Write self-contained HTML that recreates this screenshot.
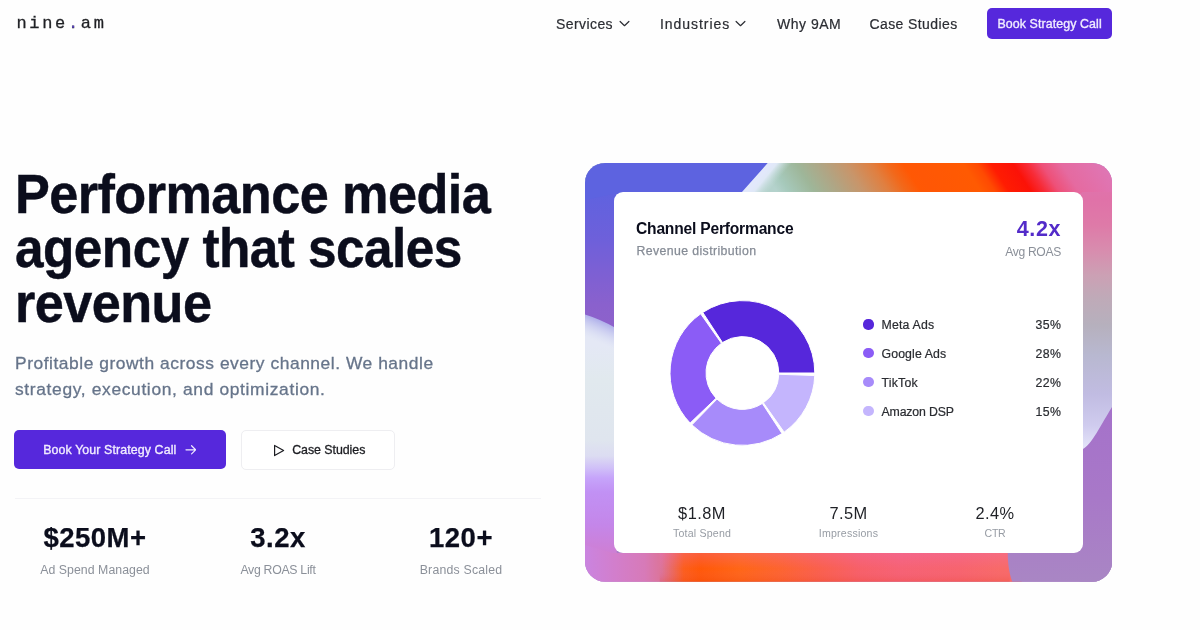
<!DOCTYPE html>
<html lang="en">
<head>
<meta charset="utf-8">
<title>nine.am — Performance media agency that scales revenue</title>
<style>
*{box-sizing:border-box;margin:0;padding:0}
html,body{width:1200px;height:630px;overflow:hidden;background:#fefefe}
body{filter:blur(.4px)}
body{position:relative;font-family:"Liberation Sans",sans-serif;color:#0b0d1a;-webkit-font-smoothing:antialiased}
.abs{position:absolute;white-space:nowrap;line-height:1}
a{color:inherit;text-decoration:none}

/* header */
#logo{left:16.5px;top:15px;font-family:"Liberation Mono","DejaVu Sans Mono",monospace;font-size:17px;letter-spacing:2.65px;color:#1f2024;line-height:18px;-webkit-text-stroke:.3px #1f2024}
#logo b{font-weight:400;color:#5b3fd6}
.nav{top:16px;font-size:14px;color:#2b2d33;letter-spacing:.5px;line-height:16px;-webkit-text-stroke:.2px #2b2d33}
.chev{position:absolute;top:20.4px;width:11px;height:7.4px}
#navbtn{left:987px;top:7.6px;width:125.2px;height:31.6px;border-radius:5px;background:#5628dc;color:#f1ecff;font-size:12.4px;font-weight:400;text-align:center;line-height:33.4px;letter-spacing:.1px;-webkit-text-stroke:.35px #f1ecff}

/* hero left */
#h1{left:14.6px;top:167.2px;font-size:55px;font-weight:700;-webkit-text-stroke:.45px #0b0d1c;line-height:54.2px;letter-spacing:-.6px;color:#0b0d1c;white-space:nowrap}
#sub{left:15px;top:350.2px;font-size:17.4px;line-height:26px;color:#66748a;letter-spacing:.25px;-webkit-text-stroke:.3px #66748a}
#cta1{left:14.4px;top:430px;width:211.7px;height:39.4px;border-radius:5px;background:#5628dc;color:#f1ecff;font-size:12.4px;line-height:41.8px;padding-left:28.8px;letter-spacing:.1px;-webkit-text-stroke:.35px #f1ecff}
#cta2{left:241.2px;top:430px;width:153.6px;height:39.6px;border-radius:5px;background:#fff;border:1px solid #eeeef1;color:#1c1d22;font-size:12.4px;line-height:39.8px;padding-left:50px;letter-spacing:.1px;-webkit-text-stroke:.3px #1c1d22}
#rule{left:15px;top:498px;width:526px;height:1px;background:#f3f3f6}
.stat{width:160px;text-align:center}
.stat .n{display:block;font-size:27.5px;font-weight:700;line-height:28px;color:#0b0d1c;letter-spacing:.5px;-webkit-text-stroke:.25px #0b0d1c}
.stat .l{display:block;font-size:12.3px;line-height:14px;color:#8b9099;margin-top:11px;letter-spacing:.2px}

/* hero right */

#card{left:613.5px;top:191.8px;width:469.7px;height:360.8px;border-radius:9px;background:#fff}

#ct{left:636px;top:220.2px;font-size:15.6px;font-weight:700;line-height:18px;color:#0b0d1c;letter-spacing:-.2px}
#cs{left:636.5px;top:243.5px;font-size:12.3px;line-height:14px;color:#868c96;letter-spacing:.39px;-webkit-text-stroke:.25px #868c96}
#roas{right:139px;top:217px;font-size:21.5px;font-weight:700;line-height:24px;color:#532bc9;letter-spacing:.6px;text-align:right}
#roasl{right:139px;top:244.8px;font-size:12.1px;line-height:14px;color:#8b9099;letter-spacing:-.3px;text-align:right}
.lg{left:881.5px;font-size:12.3px;line-height:14px;color:#2a2c31;letter-spacing:.2px;-webkit-text-stroke:.2px #2a2c31}
.pc{right:138.6px;font-size:12.3px;line-height:14px;color:#2a2c31;letter-spacing:.45px;text-align:right;-webkit-text-stroke:.2px #2a2c31}
.dot{position:absolute;left:863.4px;width:10.2px;height:10.2px;border-radius:50%;margin-top:.15px}
.cn{width:120px;text-align:center;font-size:16.4px;line-height:20px;color:#1f2126;letter-spacing:.45px}
.cl{width:120px;text-align:center;font-size:10.6px;line-height:12px;color:#979ca4;letter-spacing:.2px}
</style>
</head>
<body>

<a class="abs" id="logo">nine<b>.</b>am</a>

<a class="abs nav" id="n1" style="left:556px;letter-spacing:.42px">Services</a>
<svg class="chev" style="left:618.8px" viewBox="0 0 12 8"><path d="M1.2 1.6 6 6.2 10.8 1.6" fill="none" stroke="#2b2d33" stroke-width="1.3" stroke-linecap="round" stroke-linejoin="round"/></svg>
<a class="abs nav" id="n2" style="left:660px;letter-spacing:.95px">Industries</a>
<svg class="chev" style="left:735.4px" viewBox="0 0 12 8"><path d="M1.2 1.6 6 6.2 10.8 1.6" fill="none" stroke="#2b2d33" stroke-width="1.3" stroke-linecap="round" stroke-linejoin="round"/></svg>
<a class="abs nav" id="n3" style="left:777px">Why 9AM</a>
<a class="abs nav" id="n4" style="left:869.5px;letter-spacing:.4px">Case Studies</a>
<a class="abs" id="navbtn"><span id="navbtn_t">Book Strategy Call</span></a>

<h1 class="abs" id="h1"><span id="h1a" style="display:inline-block;transform-origin:0 50%;transform:scaleX(.95)">Performance media</span><br><span id="h1b" style="display:inline-block;transform-origin:0 50%;transform:scaleX(.934)">agency that scales</span><br><span id="h1c" style="display:inline-block;transform-origin:0 50%;transform:scaleX(.95)">revenue</span></h1>

<p class="abs" id="sub"><span id="sub1" style="letter-spacing:.54px">Profitable growth across every channel. We handle</span><br><span id="sub2" style="letter-spacing:.65px">strategy, execution, and optimization.</span></p>

<a class="abs" id="cta1"><span id="cta1_t">Book Your Strategy Call</span>
<svg style="position:absolute;left:170.3px;top:14px;width:11.6px;height:11.6px" viewBox="0 0 12 12"><path d="M1 6h10M6.8 1.8 11 6l-4.2 4.2" fill="none" stroke="#f1ecff" stroke-width="1.2" stroke-linecap="round" stroke-linejoin="round"/></svg></a>
<a class="abs" id="cta2"><svg style="position:absolute;left:31px;top:13px;width:12px;height:13px" viewBox="0 0 12 13"><path d="M1.6 1.4 10.6 6.5 1.6 11.6Z" fill="none" stroke="#1c1d22" stroke-width="1.2" stroke-linejoin="round"/></svg><span id="cta2_t" style="letter-spacing:-.05px">Case Studies</span></a>

<div class="abs" id="rule"></div>
<div class="abs stat" id="s1" style="left:15px;top:524px"><span class="n" id="s1n">$250M+</span><span class="l" id="s1l" style="letter-spacing:.05px">Ad Spend Managed</span></div>
<div class="abs stat" id="s2" style="left:198px;top:524px"><span class="n" id="s2n">3.2x</span><span class="l" id="s2l" style="letter-spacing:-.3px">Avg ROAS Lift</span></div>
<div class="abs stat" id="s3" style="left:381px;top:524px"><span class="n" id="s3n">120+</span><span class="l" id="s3l">Brands Scaled</span></div>

<svg class="abs" id="frame" style="left:585.3px;top:163.0px;width:527.1px;height:418.7px" viewBox="585.3 163.0 527.1 418.7" preserveAspectRatio="none">
<defs>
<clipPath id="fc"><rect x="585.3" y="163.0" width="527.1" height="418.7" rx="20" ry="20"/></clipPath>
<linearGradient id="gt" gradientUnits="userSpaceOnUse" x1="585" y1="0" x2="1112" y2="0" gradientTransform="translate(-115 0) skewX(33)"><stop offset="0.0000" stop-color="#b4d2cc"/><stop offset="0.3472" stop-color="#b4d2cc"/><stop offset="0.3700" stop-color="#a6c9bb"/><stop offset="0.4175" stop-color="#9eb699"/><stop offset="0.4649" stop-color="#b0a584"/><stop offset="0.5123" stop-color="#c8956a"/><stop offset="0.5598" stop-color="#e07f40"/><stop offset="0.5920" stop-color="#f2681a"/><stop offset="0.6205" stop-color="#ff5804"/><stop offset="0.6433" stop-color="#ff5705"/><stop offset="0.7343" stop-color="#ff5a02"/><stop offset="0.7609" stop-color="#ff4a02"/><stop offset="0.7875" stop-color="#ff1c02"/><stop offset="0.8292" stop-color="#fb1208"/><stop offset="0.8558" stop-color="#f72c38"/><stop offset="0.8824" stop-color="#ee5078"/><stop offset="0.9203" stop-color="#e56aa0"/><stop offset="1.0000" stop-color="#df76b4"/></linearGradient>
<linearGradient id="gd" gradientUnits="userSpaceOnUse" x1="585" y1="0" x2="1112" y2="0" gradientTransform="translate(138 0) skewX(-39)"><stop offset=".3440" stop-color="#e2e8fb"/><stop offset=".3540" stop-color="#dfe8f6"/><stop offset=".3820" stop-color="#c4dcd8" stop-opacity="0"/></linearGradient>
<linearGradient id="gb" gradientUnits="userSpaceOnUse" x1="585" y1="0" x2="1112" y2="0"><stop offset="0.0000" stop-color="#ca84e0"/><stop offset="0.0569" stop-color="#d27ecc"/><stop offset="0.1139" stop-color="#d77ab8"/><stop offset="0.1461" stop-color="#dc7498"/><stop offset="0.1689" stop-color="#ec6858"/><stop offset="0.1879" stop-color="#fc5e1c"/><stop offset="0.2182" stop-color="#ff5808"/><stop offset="0.2941" stop-color="#ff6616"/><stop offset="0.3700" stop-color="#fd642e"/><stop offset="0.4459" stop-color="#fa604c"/><stop offset="0.5218" stop-color="#f76068"/><stop offset="0.5977" stop-color="#f66274"/><stop offset="0.7116" stop-color="#f7646e"/><stop offset="0.7875" stop-color="#f86a68"/><stop offset="1.0000" stop-color="#f86a68"/></linearGradient>
<linearGradient id="gl" gradientUnits="userSpaceOnUse" x1="0" y1="163" x2="0" y2="582"><stop offset="0.0000" stop-color="#e4e8f5"/><stop offset="0.4344" stop-color="#e4e8f5"/><stop offset="0.5179" stop-color="#e1e9ee"/><stop offset="0.6611" stop-color="#dfe5ee"/><stop offset="0.6993" stop-color="#dcdcf2"/><stop offset="0.7279" stop-color="#d0c0f8"/><stop offset="0.7518" stop-color="#c6a4fa"/><stop offset="0.7852" stop-color="#c191f4"/><stop offset="0.8640" stop-color="#c486e9"/><stop offset="0.9356" stop-color="#cf7ed2"/><stop offset="1.0000" stop-color="#d77ac2"/></linearGradient><linearGradient id="glt" gradientUnits="userSpaceOnUse" x1="0" y1="163" x2="0" y2="330"><stop offset="0.0000" stop-color="#5d63e0"/><stop offset="0.1916" stop-color="#6062df"/><stop offset="0.4611" stop-color="#6e60da"/><stop offset="0.7006" stop-color="#8060d2"/><stop offset="0.8503" stop-color="#8a61cd"/><stop offset="1.0000" stop-color="#8e62ca"/></linearGradient><linearGradient id="glh" gradientUnits="userSpaceOnUse" x1="0" y1="300" x2="0" y2="350" gradientTransform="translate(0 -251.5) skewY(23.2)"><stop offset=".28" stop-color="#aeaeea"/><stop offset=".75" stop-color="#d6daf4" stop-opacity="0"/></linearGradient>
<linearGradient id="gr" gradientUnits="userSpaceOnUse" x1="0" y1="163" x2="0" y2="582"><stop offset="0.0000" stop-color="#df76b4"/><stop offset="0.0883" stop-color="#e072a8"/><stop offset="0.1480" stop-color="#de7aa8"/><stop offset="0.2076" stop-color="#d88cae"/><stop offset="0.2673" stop-color="#cca0b4"/><stop offset="0.3222" stop-color="#bfaab8"/><stop offset="0.3866" stop-color="#b6b0bd"/><stop offset="0.4582" stop-color="#b8b8d0"/><stop offset="0.5537" stop-color="#c1bce2"/><stop offset="0.6253" stop-color="#cfcbee"/><stop offset="0.6850" stop-color="#e6e6fa"/><stop offset="1.0000" stop-color="#e6e6fa"/></linearGradient>
<linearGradient id="gp" gradientUnits="userSpaceOnUse" x1="0" y1="410" x2="0" y2="582"><stop offset="0" stop-color="#a572ca"/><stop offset=".5" stop-color="#a878c8"/><stop offset="1" stop-color="#a986c4"/></linearGradient>
<linearGradient id="gbv" gradientUnits="userSpaceOnUse" x1="0" y1="553" x2="0" y2="582"><stop offset="0" stop-color="#f070c0" stop-opacity=".28"/><stop offset=".55" stop-color="#f070c0" stop-opacity="0"/><stop offset="1" stop-color="#e03000" stop-opacity=".18"/></linearGradient>
</defs>
<g clip-path="url(#fc)">
<rect x="585" y="163" width="528" height="420" fill="#a97ec6"/>
<rect x="585" y="190" width="32" height="366" fill="url(#gl)"/>
<rect x="585" y="300" width="32" height="60" fill="url(#glh)"/>
<path d="M585 163H617V328.5Q600 319 585 314.5Z" fill="url(#glt)"/>
<rect x="1080" y="190" width="33" height="266" fill="url(#gr)"/>
<path d="M1080 451 C1092 446 1098 430 1113 406 V583 H1080Z" fill="url(#gp)"/>
<path d="M585 163H1113V192H1083L1070 200H628L613 192H585Z" fill="url(#gt)"/>
<path d="M730 163H830V194H730Z" fill="url(#gd)"/>
<path d="M585 163H768L740.5 194H613L585 200Z" fill="#5d63e0"/>
<path d="M585 583V545L613 553H1022V583Z" fill="url(#gb)"/>
<rect x="660" y="553" width="350" height="30" fill="url(#gbv)"/>
<path d="M1008 552 C1008 565 1010 575 1013 583 H1113 V540 L1083 552Z" fill="url(#gp)"/>
</g>
</svg>
<div class="abs" id="card"></div>
<div class="abs" id="ct">Channel Performance</div>
<div class="abs" id="cs">Revenue distribution</div>
<div class="abs" id="roas">4.2x</div>
<div class="abs" id="roasl">Avg ROAS</div>
<svg class="abs" id="donut" style="left:0;top:0;width:1200px;height:630px;pointer-events:none" viewBox="0 0 1200 630"><path d="M814.80 373.00A72.4 72.4 0 0 0 702.76 312.42L722.47 342.54A36.4 36.4 0 0 1 778.80 373.00Z" fill="#5627db" stroke="#fff" stroke-width="1" stroke-linejoin="round"/><path d="M700.67 313.84A72.4 72.4 0 0 0 690.11 423.07L716.11 398.18A36.4 36.4 0 0 1 721.42 343.26Z" fill="#8b5cf6" stroke="#fff" stroke-width="1" stroke-linejoin="round"/><path d="M691.89 424.87A72.4 72.4 0 0 0 782.04 433.58L762.33 403.46A36.4 36.4 0 0 1 717.00 399.08Z" fill="#a78bfa" stroke="#fff" stroke-width="1" stroke-linejoin="round"/><path d="M784.13 432.16A72.4 72.4 0 0 0 814.76 375.53L778.78 374.27A36.4 36.4 0 0 1 763.38 402.74Z" fill="#c4b5fd" stroke="#fff" stroke-width="1" stroke-linejoin="round"/></svg>
<i class="dot" style="top:319.35px;background:#5627db"></i>
<span class="abs lg" id="lg0" style="top:318.2px">Meta Ads</span>
<span class="abs pc" id="pc0" style="top:318.2px">35%</span>
<i class="dot" style="top:348.05px;background:#8b5cf6"></i>
<span class="abs lg" id="lg1" style="letter-spacing:.12px;top:346.9px">Google Ads</span>
<span class="abs pc" id="pc1" style="top:346.9px">28%</span>
<i class="dot" style="top:376.95px;background:#a78bfa"></i>
<span class="abs lg" id="lg2" style="top:375.8px">TikTok</span>
<span class="abs pc" id="pc2" style="top:375.8px">22%</span>
<i class="dot" style="top:405.75px;background:#c4b5fd"></i>
<span class="abs lg" id="lg3" style="letter-spacing:-.15px;top:404.6px">Amazon DSP</span>
<span class="abs pc" id="pc3" style="top:404.6px">15%</span>
<div class="abs cn" style="left:642px;top:503px"><span id="cn0">$1.8M</span></div>
<div class="abs cl" style="left:642px;top:526.5px"><span id="cl0">Total Spend</span></div>
<div class="abs cn" style="left:788.5px;top:503px"><span id="cn1">7.5M</span></div>
<div class="abs cl" style="left:788.5px;top:526.5px"><span id="cl1">Impressions</span></div>
<div class="abs cn" style="left:935px;top:503px"><span id="cn2">2.4%</span></div>
<div class="abs cl" style="left:935px;top:526.5px"><span id="cl2" style="letter-spacing:-.3px">CTR</span></div>

</body>
</html>
